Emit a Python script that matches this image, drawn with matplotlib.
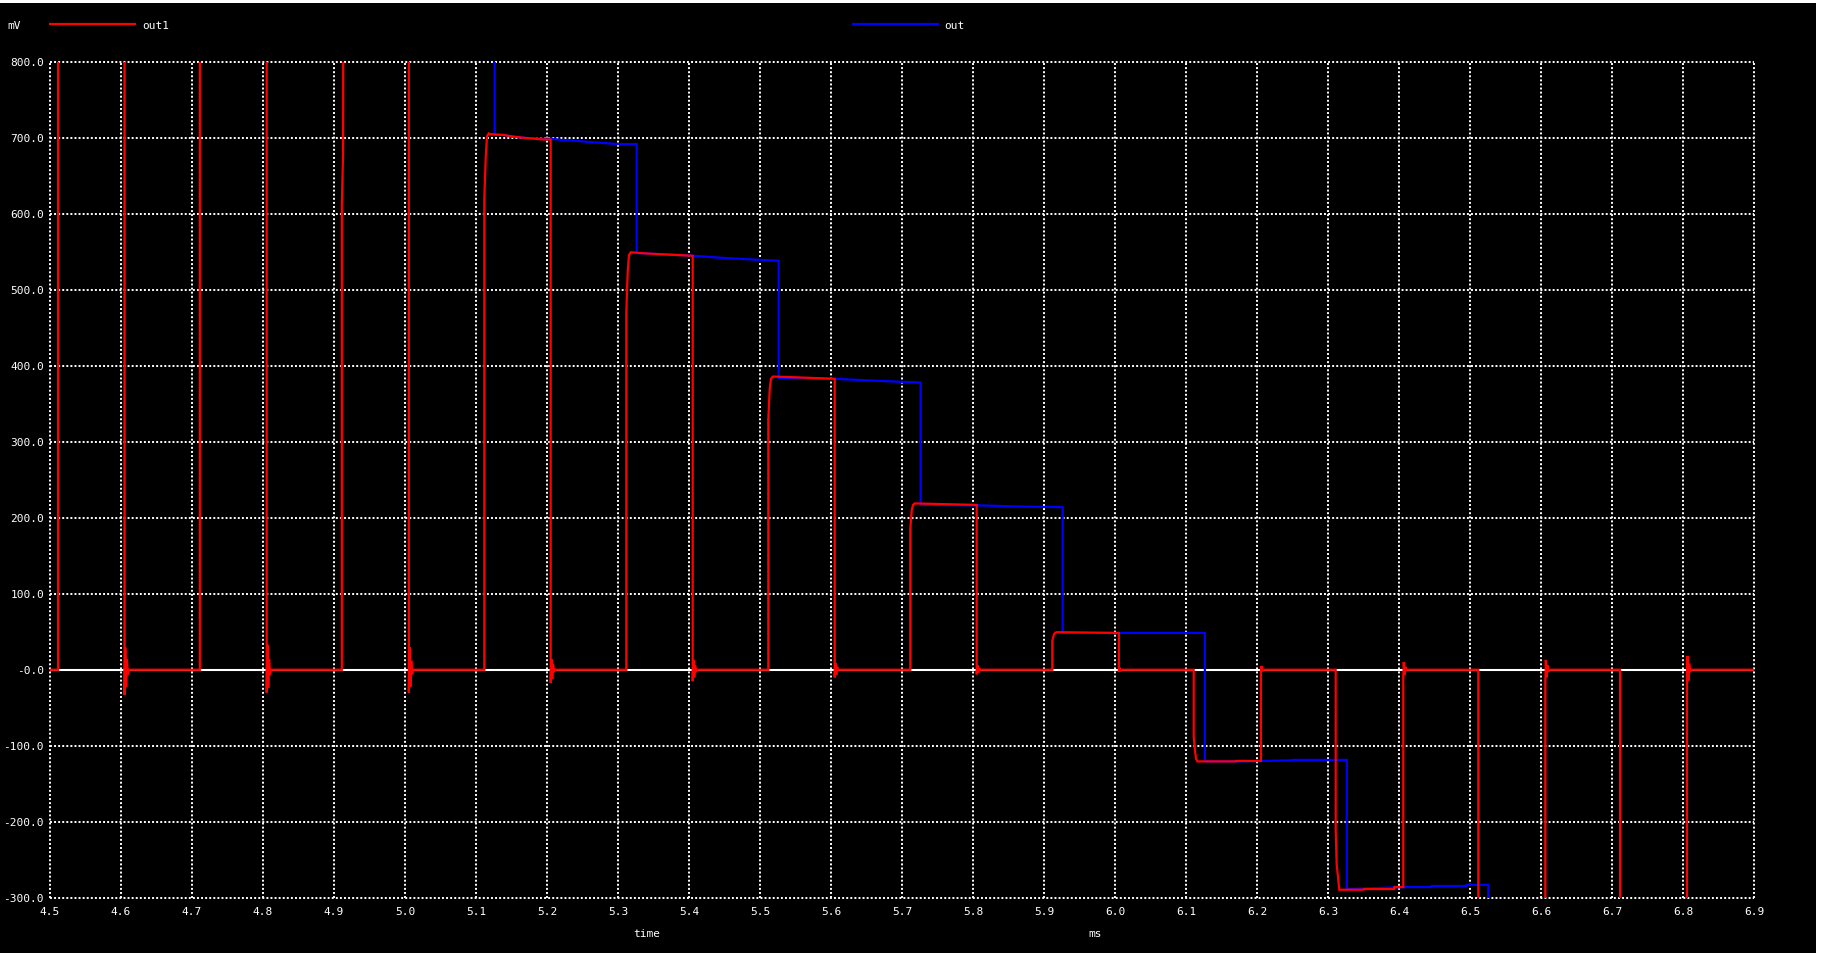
import matplotlib
matplotlib.use("Agg")
import matplotlib.pyplot as plt
from matplotlib.lines import Line2D
from matplotlib.patches import Rectangle

# ---------------- data (time in ms, value in mV) ----------------
out1_time = [
    4.5000, 4.5113, 4.5113, 4.6050,
    4.6050, 4.6060, 4.6072, 4.6084, 4.6096, 4.6110,
    4.7110, 4.7110, 4.8052,
    4.8052, 4.8062, 4.8074, 4.8086, 4.8098, 4.8112,
    4.9110, 4.9110, 4.9128, 4.9135, 5.0054,
    5.0054, 5.0064, 5.0076, 5.0088, 5.0100, 5.0114,
    5.1117, 5.1117, 5.1137, 5.1155, 5.1179, 5.1197, 5.1385, 5.1503, 5.1700, 5.1948, 5.2052,
    5.2052, 5.2062, 5.2074, 5.2086, 5.2098, 5.2110,
    5.3117, 5.3117, 5.3137, 5.3155, 5.3180, 5.3400, 5.3700, 5.4052,
    5.4052, 5.4062, 5.4074, 5.4086, 5.4098, 5.4110,
    5.5117, 5.5117, 5.5137, 5.5155, 5.5180, 5.5500, 5.6052,
    5.6052, 5.6062, 5.6074, 5.6086, 5.6100,
    5.7117, 5.7117, 5.7137, 5.7155, 5.7180, 5.8052,
    5.8052, 5.8062, 5.8074, 5.8088, 5.8100,
    5.9117, 5.9117, 5.9137, 5.9155, 5.9180, 6.0054,
    6.0054, 6.0064, 6.0076, 6.0090,
    6.1108, 6.1108, 6.1127, 6.1141, 6.1159, 6.1700, 6.1705, 6.2056,
    6.2056, 6.2064, 6.2076, 6.2090,
    6.3108, 6.3108, 6.3122, 6.3145, 6.3159, 6.3500, 6.3508, 6.3930, 6.3935, 6.4060,
    6.4060, 6.4067, 6.4079, 6.4091, 6.4105,
    6.5117, 6.5117, 6.6061,
    6.6061, 6.6068, 6.6078, 6.6090, 6.6102, 6.6115,
    6.7113, 6.7113, 6.8056,
    6.8056, 6.8063, 6.8075, 6.8087, 6.8100, 6.8114,
    6.9000,
]
out1_mv = [
    0, 0, 1200, 1200,
    -33, 29, -22, 14, -7, 0,
    0, 1200, 1200,
    -30, 33, -24, 14, -7, 0,
    0, 612, 680, 1200, 1200,
    -30, 30, -22, 12, -6, 0,
    0, 620, 675, 702, 706, 705, 704, 702, 700, 698, 698,
    -17, 14, -12, 7, -3, 0,
    0, 470, 525, 546, 549.5, 548, 546.5, 545,
    -15, 13, -10, 6, -3, 0,
    0, 330, 370, 383, 386, 385, 383,
    -10, 9, -7, 4, 0,
    0, 185, 210, 217, 219, 217,
    -6, 6, -4, 2, 0,
    0, 38, 46, 48.5, 49.5, 48.5,
    -3, 3, -2, 0,
    0, -88, -107, -117, -120.6, -120.6, -120, -120,
    -2, 5, -2, 0,
    0, -210, -256, -276, -289.5, -289.5, -288.6, -288.6, -286, -286,
    -9, 10, -7, 4, 0,
    0, -500, -500,
    -15, 13, -10, 6, -3, 0,
    0, -500, -500,
    -21, 18, -14, 8, -3, 0,
    0,
]

out_time = [
    4.5000, 5.1263, 5.1263, 5.1385, 5.1503, 5.1700, 5.2066, 5.2206, 5.2394, 5.2596, 5.2793, 5.2990, 5.3263,
    5.3263, 5.3400, 5.4052, 5.4500, 5.5000, 5.5263,
    5.5263, 5.5500, 5.6052, 5.6500, 5.7263,
    5.7263, 5.8052, 5.8600, 5.9263,
    5.9263, 6.1266,
    6.1266, 6.1700, 6.2056, 6.2490, 6.2500, 6.3265,
    6.3265, 6.4080, 6.4450, 6.4455, 6.4950, 6.4955, 6.5258,
    6.5258, 6.9000,
]
out_mv = [
    1200, 1200, 704, 704, 702, 700, 699, 697.4, 696.5, 694.7, 693.4, 692, 692,
    548.5, 548, 545, 542, 539.5, 538.5,
    384, 384, 383, 381, 378,
    217, 216.5, 215, 214,
    48.5, 48.5,
    -120.6, -120.6, -120, -119.3, -118.6, -118.6,
    -288.6, -286, -286, -284.6, -284.6, -283, -283,
    -500, -500,
]

x_ticks = [4.5, 4.6, 4.7, 4.8, 4.9, 5.0, 5.1, 5.2, 5.3, 5.4, 5.5, 5.6, 5.7,
           5.8, 5.9, 6.0, 6.1, 6.2, 6.3, 6.4, 6.5, 6.6, 6.7, 6.8, 6.9]
x_labels = ["4.5", "4.6", "4.7", "4.8", "4.9", "5.0", "5.1", "5.2", "5.3", "5.4",
            "5.5", "5.6", "5.7", "5.8", "5.9", "6.0", "6.1", "6.2", "6.3", "6.4",
            "6.5", "6.6", "6.7", "6.8", "6.9"]
y_ticks = [-300, -200, -100, 0, 100, 200, 300, 400, 500, 600, 700, 800]
y_labels = ["-300.0", "-200.0", "-100.0", "-0.0", "100.0", "200.0", "300.0",
            "400.0", "500.0", "600.0", "700.0", "800.0"]
series_names = ["out1", "out"]
series_colors = ["#ff0000", "#0000ff"]

# ---------------- figure ----------------
W, H = 1821, 956
FONT = "DejaVu Sans Mono"
FS = 8

fig = plt.figure(figsize=(W / 100, H / 100), dpi=100, facecolor="white")


def fx(px):
    return px / W


def fy(py):
    return 1 - py / H


# black canvas with thin white border (top / right / bottom)
fig.patches.append(Rectangle((0, fy(952.5)), fx(1815.5), fy(3) - fy(952.5),
                             transform=fig.transFigure, facecolor="black",
                             edgecolor="none", zorder=-10))

ax = fig.add_axes([fx(50), fy(897.7), fx(1754) - fx(50), fy(62) - fy(897.7)])
ax.set_facecolor("black")
ax.patch.set_alpha(0)
for s in ax.spines.values():
    s.set_visible(False)

ax.set_xlim(4.5, 6.9)
ax.set_ylim(-300, 800)
ax.set_xticks(x_ticks)
ax.set_xticklabels(x_labels)
ax.set_yticks(y_ticks)
ax.set_yticklabels(y_labels)
ax.tick_params(axis="both", length=0, colors="white", labelsize=FS)
ax.tick_params(axis="x", pad=6.5)
ax.tick_params(axis="y", pad=4.3)
for lab in ax.get_xticklabels() + ax.get_yticklabels():
    lab.set_fontfamily(FONT)

for xv in x_ticks:
    ax.axvline(xv, color="white", lw=1.4, dashes=(1, 1.1), zorder=1, clip_on=False)
for yv in y_ticks:
    ax.axhline(yv, color="white", lw=1.4, dashes=(1, 1.1), zorder=1, clip_on=False)

# zero line
ax.axhline(0, color="white", lw=1.5, zorder=2)

ax.plot(out_time, out_mv, color=series_colors[1], lw=1.6, zorder=3,
        solid_joinstyle="miter")
ax.plot(out1_time, out1_mv, color=series_colors[0], lw=1.6, zorder=4,
        solid_joinstyle="miter")

# header: unit + legend
fig.text(fx(7), fy(26), "mV", color="white", fontsize=FS, family=FONT,
         ha="left", va="center")
fig.add_artist(Line2D([fx(50), fx(135)], [fy(24), fy(24)], color=series_colors[0],
                      lw=1.6, transform=fig.transFigure))
fig.text(fx(142), fy(26), series_names[0], color="white", fontsize=FS, family=FONT,
         ha="left", va="center")
fig.add_artist(Line2D([fx(853), fx(938)], [fy(24), fy(24)], color=series_colors[1],
                      lw=1.6, transform=fig.transFigure))
fig.text(fx(944), fy(26), series_names[1], color="white", fontsize=FS, family=FONT,
         ha="left", va="center")

# axis captions
fig.text(fx(647), fy(934), "time", color="white", fontsize=FS, family=FONT,
         ha="center", va="center")
fig.text(fx(1095), fy(934), "ms", color="white", fontsize=FS, family=FONT,
         ha="center", va="center")

fig.savefig("out.png", dpi=100, facecolor=fig.get_facecolor())
